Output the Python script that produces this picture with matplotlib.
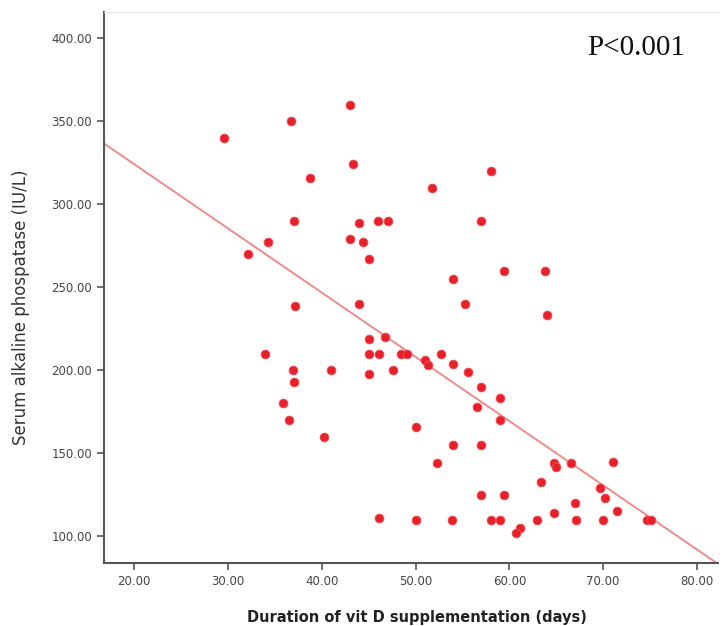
import numpy as np
import matplotlib
matplotlib.use("Agg")
import matplotlib.pyplot as plt

# duration of vit D supplementation (days) vs serum ALP (IU/L)
duration = [29.6, 36.7, 43.0, 43.3, 38.8, 37.0, 44.0, 46.0, 47.1, 43.0,
            44.4, 34.3, 58.0, 51.8, 57.0, 32.2, 45.0, 37.2, 44.0, 46.8,
            45.0, 34.0, 45.0, 46.1, 36.9, 41.0, 45.0, 47.6, 37.0, 35.9,
            36.5, 40.3, 54.0, 59.4, 63.8, 55.3, 64.0, 48.5, 49.1, 51.0,
            51.3, 52.7, 54.0, 55.6, 57.0, 59.0, 56.5, 59.0, 50.0, 54.0,
            57.0, 52.3, 64.8, 65.0, 66.6, 63.4, 57.0, 59.4, 46.1, 50.0,
            53.9, 58.0, 59.0, 62.9, 64.8, 67.1, 61.1, 60.7, 71.0, 69.7,
            70.2, 67.0, 71.5, 70.0, 74.7, 75.1]
alp = [340, 350, 360, 324, 316, 290, 289, 290, 290, 279,
       277, 277, 320, 310, 290, 270, 267, 239, 240, 220,
       219, 210, 210, 210, 200, 200, 198, 200, 193, 180,
       170, 160, 255, 260, 260, 240, 233, 210, 210, 206,
       203, 210, 204, 199, 190, 183, 178, 170, 166, 155,
       155, 144, 144, 142, 144, 133, 125, 125, 111, 110,
       110, 110, 110, 110, 114, 110, 105, 102, 145, 129,
       123, 120, 115, 110, 110, 110]

# fit line as drawn in the figure
fit_intercept = 401.6
fit_slope = -3.87

xticks = [20, 30, 40, 50, 60, 70, 80]
yticks = [100, 150, 200, 250, 300, 350, 400]

fig = plt.figure(figsize=(7.22, 6.26), dpi=100)
ax = fig.add_axes([0.144, 0.1006, 0.850, 0.880])

xlim = (16.8, 82.2)
ylim = (83.9, 415.7)

xs = np.array(xlim)
ax.plot(xs, fit_intercept + fit_slope * xs, color="#f08a8a", lw=1.4, zorder=1)
ax.scatter(duration, alp, s=40, color="#e8202a", edgecolors="#f04e55",
           linewidths=0.6, zorder=2)

ax.set_xlim(*xlim)
ax.set_ylim(*ylim)
ax.set_xticks(xticks)
ax.set_yticks(yticks)
ax.set_xticklabels([f"{v:.2f}" for v in xticks])
ax.set_yticklabels([f"{v:.2f}" for v in yticks])
ax.tick_params(direction="out", length=5, width=1.2, color="#555555",
               labelsize=8.5, labelcolor="#444444")

for side in ["left", "bottom"]:
    ax.spines[side].set_color("#555555")
    ax.spines[side].set_linewidth(1.5)
ax.spines["top"].set_color("#e6e6e6")
ax.spines["right"].set_visible(False)

ax.set_ylabel("Serum alkaline phospatase (IU/L)", fontsize=12, color="#333333")
ax.yaxis.set_label_coords(-0.12, 0.465)
ax.set_xlabel("Duration of vit D supplementation (days)", fontsize=10.5,
              fontweight="bold", color="#222222")
ax.xaxis.set_label_coords(0.51, -0.085)

fig.text(587 / 722, 1 - 48 / 626, "P<0.001", fontsize=21,
         family="Liberation Serif", va="center", ha="left", color="#111111")

fig.savefig("out.png", dpi=100)
